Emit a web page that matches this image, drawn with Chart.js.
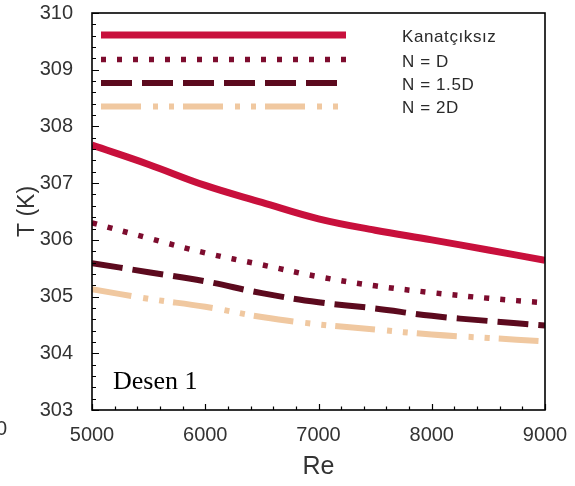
<!DOCTYPE html>
<html>
<head>
<meta charset="utf-8">
<script src="https://cdn.jsdelivr.net/npm/chart.js@4.4.1/dist/chart.umd.min.js"></script>
<style>
html,body{margin:0;padding:0;background:#fff;}
#wrap{width:575px;height:486px;position:relative;}
</style>
</head>
<body>
<div id="wrap"><canvas id="c" width="575" height="486"></canvas></div>
<script>
// ---- data ----
const reValues = [5000, 5500, 6000, 6500, 7000, 7500, 8000, 8500, 9000];
const kanatciksiz = [307.67, 307.33, 306.96, 306.66, 306.37, 306.17, 306.00, 305.82, 305.64];
const nD = [306.30, 306.03, 305.77, 305.56, 305.35, 305.19, 305.07, 304.97, 304.89];
const n15D = [305.59, 305.43, 305.27, 305.06, 304.90, 304.79, 304.66, 304.57, 304.49];
const n2D = [305.13, 304.96, 304.82, 304.64, 304.51, 304.42, 304.33, 304.27, 304.21];
const seriesNames = ["Kanatçıksız", "N = D", "N = 1.5D", "N = 2D"];
const xTicks = [5000, 6000, 7000, 8000, 9000];
const yTicks = [303, 304, 305, 306, 307, 308, 309, 310];
const annotationText = "Desen 1";

const colors = ["#C8103C", "#7D0C2E", "#5C0A1E", "#F0C8A0"];
const dashes = [[], [5, 11], [31, 10], [40, 12, 5, 11, 5, 9]];
const widths = [7, 5.5, 6, 6];
const allSeries = [kanatciksiz, nD, n15D, n2D];

const datasets = allSeries.map((s, i) => ({
  label: seriesNames[i],
  data: reValues.map((x, j) => ({x: x, y: s[j]})),
  borderColor: colors[i],
  backgroundColor: colors[i],
  borderWidth: widths[i],
  borderDash: dashes[i],
  borderCapStyle: 'butt',
  pointRadius: 0,
  tension: 0.4,
  fill: false
}));

const FONT = "'Liberation Sans', Arial, sans-serif";

const framePlugin = {
  id: 'frame',
  afterDraw(chart) {
    const ctx = chart.ctx;
    const a = chart.chartArea;
    const xs = chart.scales.x, ys = chart.scales.y;
    ctx.save();
    // ticks inside
    ctx.strokeStyle = '#000';
    ctx.lineWidth = 1.2;
    ctx.beginPath();
    for (let v = 5000; v <= 9000; v += 200) {
      const px = Math.round(xs.getPixelForValue(v)) + 0.5;
      const len = (v % 1000 === 0) ? 6 : 3.5;
      ctx.moveTo(px, a.bottom); ctx.lineTo(px, a.bottom - len);
    }
    for (let k = 0; k <= 35; k++) {
      const v = 303 + k * 0.2;
      const py = Math.round(ys.getPixelForValue(v)) + 0.5;
      const len = (k % 5 === 0) ? 7 : 4;
      ctx.moveTo(a.left, py); ctx.lineTo(a.left + len, py);
    }
    ctx.stroke();
    // border
    ctx.lineWidth = 1.6;
    ctx.strokeRect(a.left, a.top, a.right - a.left, a.bottom - a.top);
    // legend
    const legY = [35, 59.5, 83, 106.5];
    const txtY = [37, 62, 85, 108];
    chart.data.datasets.forEach((d, i) => {
      ctx.save();
      ctx.strokeStyle = d.borderColor;
      ctx.lineWidth = d.borderWidth;
      ctx.setLineDash(d.borderDash);
      ctx.lineCap = 'butt';
      ctx.beginPath();
      ctx.moveTo(a.left + 9, legY[i]);
      ctx.lineTo(346, legY[i]);
      ctx.stroke();
      ctx.restore();
      ctx.fillStyle = '#2a2a2a';
      ctx.font = "17px " + FONT;
      ctx.textBaseline = 'middle';
      ctx.textAlign = 'left';
      if ('letterSpacing' in ctx) ctx.letterSpacing = '0.6px';
      ctx.fillText(d.label, 402, txtY[i]);
      if ('letterSpacing' in ctx) ctx.letterSpacing = '0px';
    });
    // annotation
    ctx.fillStyle = '#000';
    ctx.font = "26px 'Liberation Serif', 'Times New Roman', serif";
    ctx.textBaseline = 'alphabetic';
    ctx.fillText(annotationText, 113, 389);
    // cropped fragment at far left
    ctx.fillStyle = '#333';
    ctx.font = "20px " + FONT;
    ctx.textBaseline = 'middle';
    ctx.fillText("0", -4, 429);
    ctx.restore();
  }
};

new Chart(document.getElementById('c'), {
  type: 'line',
  data: { datasets: datasets },
  options: {
    responsive: false,
    animation: false,
    devicePixelRatio: 1,
    layout: { padding: { top: 13, right: 30, left: 0, bottom: 0 } },
    plugins: { legend: { display: false }, tooltip: { enabled: false } },
    scales: {
      x: {
        type: 'linear',
        min: 5000, max: 9000,
        afterFit(s) { s.height = 76; s.paddingLeft = 0; s.paddingRight = 0; },
        afterBuildTicks(s) { s.ticks = xTicks.map(v => ({value: v})); },
        grid: { display: false },
        border: { display: false },
        ticks: { color: '#333', font: { family: FONT, size: 20 }, padding: 5, maxRotation: 0, callback: v => String(v) },
        title: { display: true, text: 'Re', color: '#333', font: { family: FONT, size: 25 }, padding: { top: 2 } }
      },
      y: {
        type: 'linear',
        min: 303, max: 310,
        afterFit(s) { s.width = 92; s.paddingTop = 0; s.paddingBottom = 0; },
        afterBuildTicks(s) { s.ticks = yTicks.map(v => ({value: v})); },
        grid: { display: false },
        border: { display: false },
        ticks: { color: '#333', font: { family: FONT, size: 20 }, padding: 11 },
        title: { display: true, text: 'T (K)', color: '#333', font: { family: FONT, size: 23 }, padding: { top: 14, bottom: 0 } }
      }
    }
  },
  plugins: [framePlugin]
});
</script>
</body>
</html>
